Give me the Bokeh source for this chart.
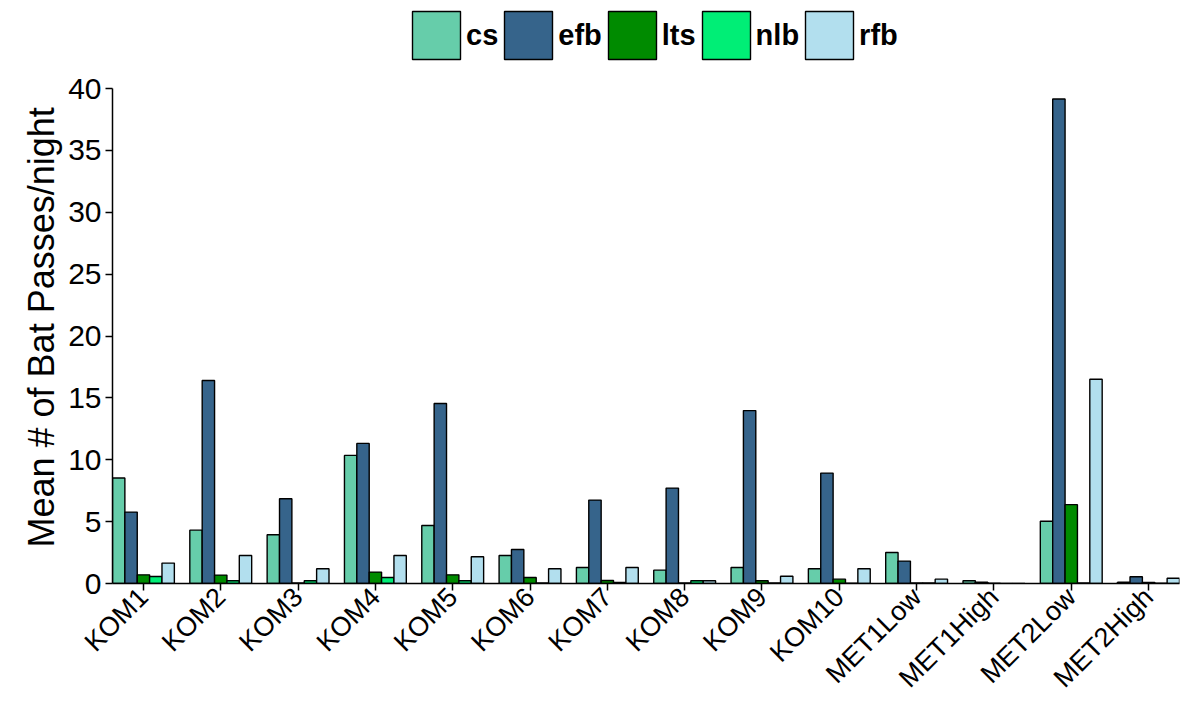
from bokeh.plotting import figure
from bokeh.models import Range1d, FixedTicker, Legend, LegendItem, ColumnDataSource, Title
from bokeh.embed import file_html
from bokeh.resources import INLINE
import math

sites = ["KOM1", "KOM2", "KOM3", "KOM4", "KOM5", "KOM6", "KOM7", "KOM8", "KOM9",
         "KOM10", "MET1Low", "MET1High", "MET2Low", "MET2High"]
species = ["cs", "efb", "lts", "nlb", "rfb"]
colors = ["#66CDAA", "#36648B", "#008B00", "#00EE76", "#B2DFEE"]

cs = [8.52, 4.31, 3.94, 10.35, 4.69, 2.26, 1.29, 1.08, 1.29, 1.19, 2.51, 0.22, 5.03, 0.10]
efb = [5.77, 16.40, 6.85, 11.32, 14.55, 2.75, 6.74, 7.71, 13.97, 8.92, 1.81, 0.10, 39.15, 0.54]
lts = [0.70, 0.68, 0.05, 0.92, 0.70, 0.49, 0.24, 0.05, 0.22, 0.35, 0.05, 0.03, 6.37, 0.08]
nlb = [0.57, 0.22, 0.22, 0.49, 0.22, 0.05, 0.08, 0.22, 0.05, 0.02, 0.05, 0.01, 0.05, 0.03]
rfb = [1.65, 2.26, 1.19, 2.26, 2.16, 1.19, 1.29, 0.22, 0.59, 1.19, 0.35, 0.01, 16.50, 0.43]
series = [cs, efb, lts, nlb, rfb]
y_ticks = [0, 5, 10, 15, 20, 25, 30, 35, 40]
y_title = "Mean # of Bat Passes/night"

W, H = 1181, 708
top_px, bottom_px = 0, 125
frame_h = H - top_px - bottom_px           # 583 px
y_max = 40
y_end = y_max * frame_h / 495.0            # 40 sits 88 px below the top edge

p = figure(width=W, height=H, output_backend="svg", toolbar_location=None,
           x_range=Range1d(0.1, len(sites) - 0.1), y_range=Range1d(0, y_end),
           min_border_left=112, min_border_right=2, min_border_top=top_px,
           min_border_bottom=bottom_px)
p.outline_line_color = None
p.xgrid.visible = False
p.ygrid.visible = False
p.background_fill_color = "white"

xa = p.below[0]
ya = p.left[0]

bw = 0.16
items = []
for k, (name, vals, col) in enumerate(zip(species, series, colors)):
    off = (k - 2) * bw
    src = ColumnDataSource(dict(x=[i + 0.5 + off for i in range(len(sites))], top=vals))
    r = p.vbar(x="x", top="top", width=bw, bottom=0, source=src,
               fill_color=col, line_color="black", line_width=1.4)
    items.append(LegendItem(label=name, renderers=[r]))

xa.ticker = FixedTicker(ticks=[i + 0.5 for i in range(len(sites))])
xa.major_label_overrides = {i + 0.5: s for i, s in enumerate(sites)}
xa.major_label_orientation = math.pi / 4
xa.major_label_text_font = "Liberation Sans"
xa.major_label_text_font_size = "27px"
xa.major_label_text_color = "black"
xa.major_label_standoff = 2
xa.minor_tick_line_color = None
xa.major_tick_out = 7
xa.major_tick_in = 0
xa.axis_line_width = 1.5
xa.major_tick_line_width = 1.5

ya.ticker = FixedTicker(ticks=y_ticks)
ya.bounds = (0, y_max)
ya.major_label_text_font = "Liberation Sans"
ya.major_label_text_font_size = "30px"
ya.major_label_text_color = "black"
ya.major_label_standoff = 4
ya.minor_tick_line_color = None
ya.major_tick_out = 7
ya.major_tick_in = 0
ya.axis_line_width = 1.5
ya.major_tick_line_width = 1.5

ytitle = Title(text=y_title, align="left", offset=36, text_font="Liberation Sans",
               text_font_style="normal", text_font_size="36px", text_color="black",
               standoff=8)
p.add_layout(ytitle, "left")

legend = Legend(items=items, orientation="horizontal", location=(294, frame_h - 65),
                glyph_width=60, glyph_height=60, spacing=0, label_standoff=0,
                padding=0, margin=0, border_line_color=None, background_fill_alpha=0,
                label_text_font="Liberation Sans", label_text_font_style="bold",
                label_text_font_size="29px", label_height=60, label_text_color="black")
p.add_layout(legend, "center")

open("out.html", "w").write(file_html(p, INLINE))
